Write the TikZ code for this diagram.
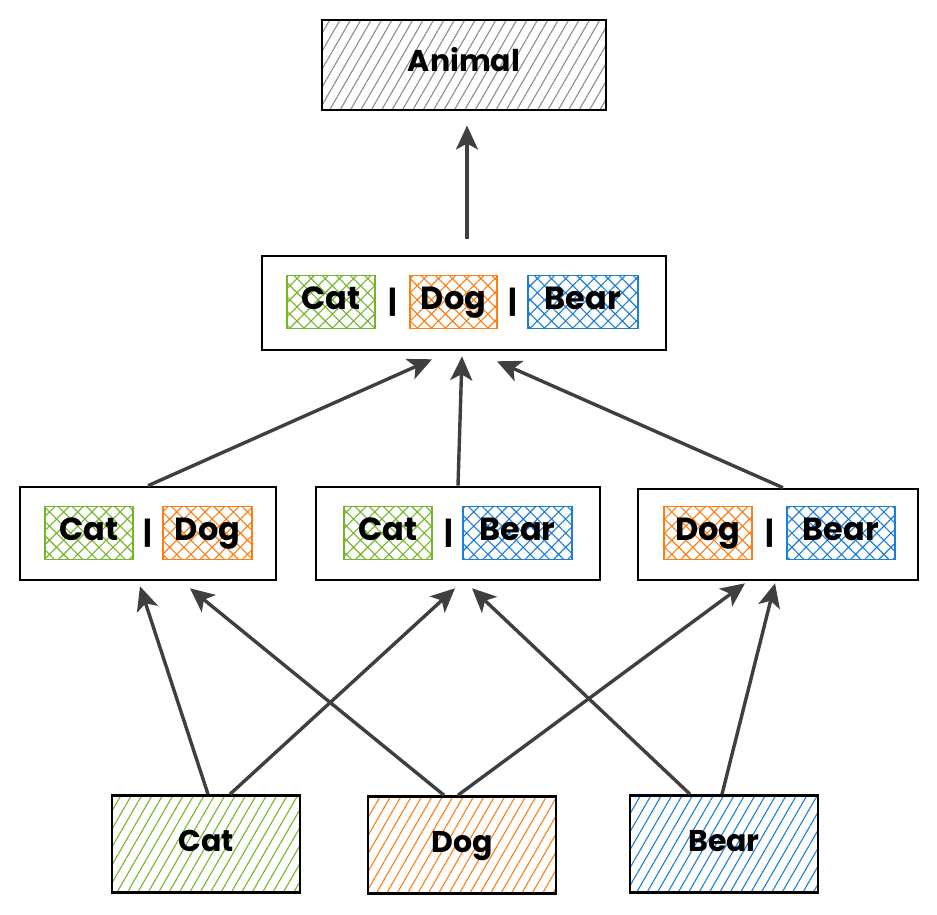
\documentclass[tikz,border=0pt]{standalone}
\usepackage{fontspec}
\setmainfont{Poppins}
\usetikzlibrary{patterns.meta,arrows.meta,calc}
\definecolor{cgreen}{HTML}{74B62A}
\definecolor{corange}{HTML}{FD7E14}
\definecolor{cblue}{HTML}{1C7ED6}
\definecolor{cgray}{HTML}{868E96}
\definecolor{carrow}{HTML}{3F3F3F}
\tikzset{
  outerbox/.style={draw=black, line width=2.6pt, inner sep=0pt, fill=white},
  innerbox/.style={draw=#1, line width=1.6pt, inner sep=0pt, minimum height=53pt,
    text height=23pt, text depth=8pt,
    pattern={Hatch[angle=45,distance=10pt,line width=1.1pt]}, pattern color=#1,
    font=\fontsize{32}{36}\selectfont\bfseries},
  solidbox/.style={draw=black, line width=2.6pt, inner sep=0pt, minimum width=188pt, minimum height=97pt,
    text height=22pt, text depth=8pt,
    pattern={Lines[angle=60,distance=9pt,line width=1.1pt]}, pattern color=#1,
    font=\fontsize{30}{34}\selectfont\bfseries},
  barlabel/.style={inner sep=0pt, font=\fontsize{30}{34}\selectfont\bfseries},
  arr/.style={draw=carrow, line width=3.4pt, -{Stealth[length=24pt,width=22pt,inset=6pt]}},
}
\begin{document}
\begin{tikzpicture}[x=1pt,y=-1pt]
\useasboundingbox (0,0) rectangle (937,915);

% Animal
\node[solidbox=cgray, minimum width=284pt, minimum height=90pt] (animal) at (464,65) {Animal};

% top union
\node[outerbox, minimum width=404pt, minimum height=94pt] (union) at (464,303) {};
\node[innerbox=cgreen, minimum width=88pt] (ucat) at (331,302) {Cat};
\node[barlabel] (ubar1) at (393,302) {|};
\node[innerbox=corange, minimum width=87pt] (udog) at (453.5,302) {Dog};
\node[barlabel] (ubar2) at (513,302) {|};
\node[innerbox=cblue, minimum width=110pt] (ubear) at (583,302) {Bear};

% Cat | Dog
\node[outerbox, minimum width=256pt, minimum height=93pt] (cd) at (148,533.5) {};
\node[innerbox=cgreen, minimum width=88pt] (cdcat) at (89,533) {Cat};
\node[barlabel] (cdbar) at (148,533) {|};
\node[innerbox=corange, minimum width=89pt] (cddog) at (207.5,533) {Dog};

% Cat | Bear
\node[outerbox, minimum width=284pt, minimum height=93pt] (cb) at (458,533.5) {};
\node[innerbox=cgreen, minimum width=88pt] (cbcat) at (388,533) {Cat};
\node[barlabel] (cbbar) at (449,533) {|};
\node[innerbox=cblue, minimum width=109pt] (cbbear) at (517.5,533) {Bear};

% Dog | Bear
\node[outerbox, minimum width=280pt, minimum height=91pt] (db) at (778,534.5) {};
\node[innerbox=corange, minimum width=88pt] (dbdog) at (708,533) {Dog};
\node[barlabel] (dbbar) at (770,533) {|};
\node[innerbox=cblue, minimum width=108pt] (dbbear) at (841,533) {Bear};

% bottom
\node[solidbox=cgreen] (cat) at (206,844) {Cat};
\node[solidbox=corange] (dog) at (462,845) {Dog};
\node[solidbox=cblue] (bear) at (724,844) {Bear};

% arrows
\draw[arr] ([xshift=3pt,yshift=16pt]union.north) -- ([xshift=3pt,yshift=-15pt]animal.south);
\draw[arr] (cd.north) -- ([xshift=-32pt,yshift=-8pt]union.south);
\draw[arr] (cb.north) -- ([xshift=-2pt,yshift=-5pt]union.south);
\draw[arr] ([xshift=5pt]db.north) -- ([xshift=33pt,yshift=-10pt]union.south);

\draw[arr] ([xshift=2pt]cat.north) -- ([xshift=-8pt,yshift=-5pt]cd.south);
\draw[arr] ([xshift=24pt]cat.north) -- ([xshift=-3pt,yshift=-7pt]cb.south);
\draw[arr] ([xshift=-18pt]dog.north) -- ([xshift=42pt,yshift=-7pt]cd.south);
\draw[arr] ([xshift=-4pt]dog.north) -- ([xshift=-33pt,yshift=-2pt]db.south);
\draw[arr] ([xshift=-34pt]bear.north) -- ([xshift=14pt,yshift=-7pt]cb.south);
\draw[arr] ([xshift=-2pt]bear.north) -- ([xshift=-3pt,yshift=-2pt]db.south);
\end{tikzpicture}
\end{document}
